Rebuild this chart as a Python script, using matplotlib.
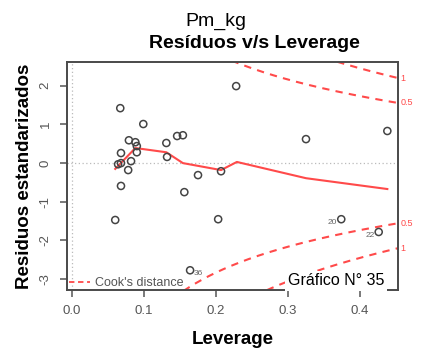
import numpy as np
import matplotlib
matplotlib.use("Agg")
import matplotlib.pyplot as plt

plt.rcParams['font.family'] = ['Liberation Sans', 'DejaVu Sans']

# Leverage and standardized residuals of each observation
leverage = [0.099, 0.079, 0.088, 0.090, 0.090, 0.068, 0.068, 0.064, 0.082, 0.078,
            0.068, 0.060, 0.131, 0.132, 0.146, 0.154, 0.156, 0.175, 0.207, 0.203,
            0.325, 0.438, 0.374, 0.426, 0.067, 0.228, 0.164]
std_resid = [1.01, 0.59, 0.54, 0.44, 0.28, 0.26, 0.00, -0.03, 0.05, -0.18,
             -0.59, -1.47, 0.52, 0.16, 0.70, 0.72, -0.75, -0.31, -0.21, -1.45,
             0.62, 0.83, -1.45, -1.78, 1.42, 1.99, -2.77]
# Flagged observations: (index into the arrays above, label)
flagged = [(22, "20"), (23, "22"), (26, "36")]

# Smoothed trend of residuals against leverage
smooth_lev = [0.060, 0.088, 0.131, 0.154, 0.207, 0.229, 0.325, 0.438]
smooth_res = [-0.15, 0.39, 0.28, 0.00, -0.18, 0.03, -0.39, -0.67]

# Cook's distance contour settings
n_params = 4
cook_levels = [0.5, 1.0]

x_ticks = [0.0, 0.1, 0.2, 0.3, 0.4]
x_ticklabels = ["0.0", "0.1", "0.2", "0.3", "0.4"]
y_ticks = [-3, -2, -1, 0, 1, 2]
y_ticklabels = ["-3", "-2", "-1", "0", "1", "2"]

RED = "#ff4a4a"
GREY = "#444444"

fig = plt.figure(figsize=(4.24, 3.49), dpi=100)
ax = fig.add_axes([0.158, 0.169, 0.781, 0.653])
xlim = (-0.007, 0.453)
ylim = (-3.28, 2.61)
ax.set_xlim(*xlim)
ax.set_ylim(*ylim)

# reference lines at zero
ax.axhline(0, color="#bbbbbb", lw=0.9, ls=(0, (1, 2)), zorder=1)
ax.axvline(0, color="#bbbbbb", lw=0.9, ls=(0, (1, 2)), zorder=1)

# Cook's distance contours
h = np.linspace(0.01, xlim[1], 400)
for lvl in cook_levels:
    r = np.sqrt(lvl * n_params * (1 - h) / h)
    for sign in (1, -1):
        ax.plot(h, sign * r, color=RED, lw=1.5, ls=(0, (3.5, 3)), zorder=2, clip_on=True)
        yend = sign * np.sqrt(lvl * n_params * (1 - xlim[1]) / xlim[1])
        ax.text(xlim[1] + 0.003, yend, f"{lvl:g}", color=RED, fontsize=6.5,
                ha="left", va="center", clip_on=False)

# smoothed line
ax.plot(smooth_lev, smooth_res, color=RED, lw=1.5, zorder=3)

# observations
ax.scatter(leverage, std_resid, s=26, facecolors="none", edgecolors=GREY,
           linewidths=1.1, zorder=4)
for idx, lab in flagged:
    x, y = leverage[idx], std_resid[idx]
    if lab == "36":
        ax.text(x + 0.005, y - 0.08, lab, fontsize=6, color="#666666", ha="left", va="center")
    else:
        ax.text(x - 0.006, y - 0.08, lab, fontsize=6, color="#666666", ha="right", va="center")

# legend for the contours
ax.plot([0.006, 0.07], [0.035, 0.035], transform=ax.transAxes, color=RED,
        lw=1.3, ls=(0, (3, 2)), clip_on=False)
ax.text(0.085, 0.03, "Cook's distance", transform=ax.transAxes, fontsize=9,
        color="#555555", ha="left", va="center")

for s in ax.spines.values():
    s.set_color("#4a4a4a")
    s.set_linewidth(1.4)

ax.set_xticks(x_ticks)
ax.set_xticklabels(x_ticklabels)
ax.set_yticks(y_ticks)
ax.set_yticklabels(y_ticklabels, rotation=90, va="center")
ax.tick_params(axis="both", direction="out", length=5, width=1.1, color="#555555",
               labelcolor="#555555", labelsize=9.5, pad=6)

ax.set_xlabel("Leverage", fontsize=13.5, fontweight="bold", labelpad=10)
ax.set_ylabel("Residuos estandarizados", fontsize=13.5, fontweight="bold", labelpad=5)

fig.text(0.51, 0.938, "Pm_kg", fontsize=14, ha="center", va="center")
fig.text(0.599, 0.875, "Resíduos v/s Leverage", fontsize=14, fontweight="bold",
         ha="center", va="center")

fig.text(0.792, 0.195, "Gráfico N° 35", fontsize=11.5, ha="center", va="center",
         bbox=dict(facecolor="white", edgecolor="none", pad=2))

fig.savefig("out.png", dpi=100)
